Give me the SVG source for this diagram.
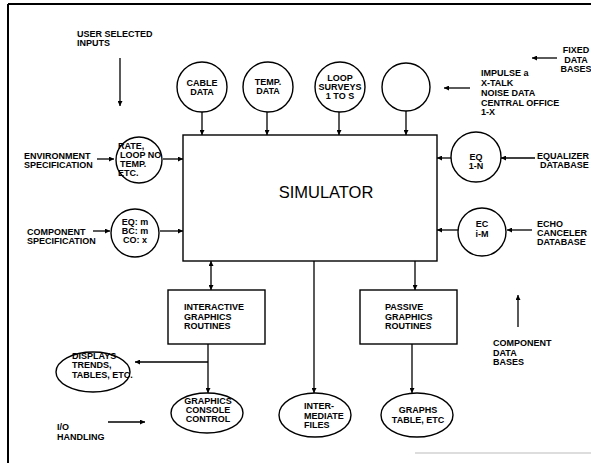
<svg xmlns="http://www.w3.org/2000/svg" width="591" height="463" viewBox="0 0 591 463">
<defs>
<marker id="ah" viewBox="0 0 10 10" refX="10" refY="5" markerWidth="6" markerHeight="5" orient="auto-start-reverse" markerUnits="userSpaceOnUse">
<path d="M0,0 L10,5 L0,10 z" fill="#000"/>
</marker>
</defs>
<style>
text{font-family:"Liberation Sans",Arial,sans-serif;font-weight:bold;font-size:9px;fill:#000}
.c{text-anchor:middle}
.big{font-weight:normal;font-size:16.5px}
.sh{fill:#fff;stroke:#000;stroke-width:1.4}
.ln{fill:none;stroke:#000;stroke-width:1.3}
.ar{fill:none;stroke:#000;stroke-width:1.3;marker-end:url(#ah)}
.da{fill:none;stroke:#000;stroke-width:1.3;marker-end:url(#ah);marker-start:url(#ah)}
</style>
<rect width="591" height="463" fill="#fff"/>
<g id="frame">
<line x1="8" y1="4" x2="591" y2="4" stroke="#000" stroke-width="2"/>
<line x1="8" y1="4" x2="8" y2="463" stroke="#000" stroke-width="2"/>
<line x1="415" y1="453" x2="591" y2="453" stroke="#bbb" stroke-width="1"/>
</g>
<g id="connectors">
<line class="ar" x1="120" y1="58" x2="120" y2="106"/>
<line class="ar" x1="202" y1="112" x2="202" y2="135"/>
<line class="ar" x1="267" y1="112" x2="267" y2="135"/>
<line class="ar" x1="339" y1="112" x2="339" y2="135"/>
<line class="ar" x1="406" y1="111" x2="406" y2="135"/>
<line class="ar" x1="470" y1="88" x2="444" y2="88"/>
<line class="ar" x1="557" y1="58" x2="532" y2="58"/>
<line class="ar" x1="97" y1="159" x2="114" y2="159"/>
<line class="ar" x1="163" y1="159" x2="183" y2="159"/>
<line class="ar" x1="93" y1="231" x2="110" y2="231"/>
<line class="ar" x1="160" y1="231" x2="183" y2="231"/>
<line class="ar" x1="451" y1="158" x2="437" y2="158"/>
<line class="ar" x1="535" y1="158" x2="501" y2="158"/>
<line class="ar" x1="458" y1="230" x2="437" y2="230"/>
<line class="ar" x1="532" y1="230" x2="507" y2="230"/>
<line class="da" x1="211" y1="261" x2="211" y2="290"/>
<line class="ar" x1="208" y1="344" x2="208" y2="393"/>
<line class="ar" x1="208" y1="362" x2="135" y2="362"/>
<line class="ar" x1="108" y1="422" x2="145" y2="422"/>
<line class="ar" x1="314" y1="261" x2="314" y2="393"/>
<line class="ar" x1="415" y1="261" x2="415" y2="290"/>
<line class="ar" x1="412" y1="344" x2="412" y2="393"/>
<line class="ar" x1="518" y1="327" x2="518" y2="295"/>
</g>
<g id="simulator">
<rect class="sh" x="183" y="135" width="254" height="126"/>
<text class="big c" x="326" y="198">SIMULATOR</text>
</g>
<g id="user-inputs">
<text x="77" y="37">USER SELECTED</text>
<text x="77" y="46">INPUTS</text>
</g>
<g id="cable-data">
<circle class="sh" cx="202" cy="87" r="25"/>
<text class="c" x="202" y="86">CABLE</text>
<text class="c" x="202" y="95">DATA</text>
</g>
<g id="temp-data">
<circle class="sh" cx="268" cy="87" r="25"/>
<text class="c" x="268" y="85">TEMP.</text>
<text class="c" x="268" y="94">DATA</text>
</g>
<g id="loop-surveys">
<circle class="sh" cx="340" cy="87" r="25"/>
<text class="c" x="340" y="81">LOOP</text>
<text class="c" x="340" y="90">SURVEYS</text>
<text class="c" x="340" y="99">1 TO S</text>
</g>
<g id="empty-circle">
<circle class="sh" cx="406" cy="87" r="24"/>
</g>
<g id="impulse">
<text x="481" y="76">IMPULSE a</text>
<text x="481" y="86">X-TALK</text>
<text x="481" y="96">NOISE DATA</text>
<text x="481" y="106">CENTRAL OFFICE</text>
<text x="481" y="115">1-X</text>
</g>
<g id="fixed-data-bases">
<text class="c" x="576" y="53">FIXED</text>
<text class="c" x="576" y="63">DATA</text>
<text class="c" x="576" y="72">BASES</text>
</g>
<g id="environment">
<text x="24" y="159">ENVIRONMENT</text>
<text x="24" y="168">SPECIFICATION</text>
</g>
<g id="rate">
<circle class="sh" cx="139" cy="160" r="23"/>
<text x="118" y="149">RATE,</text>
<text x="120" y="158">LOOP NO</text>
<text x="120" y="167">TEMP.</text>
<text x="118" y="176">ETC.</text>
</g>
<g id="component-spec">
<text x="27" y="235">COMPONENT</text>
<text x="27" y="244">SPECIFICATION</text>
</g>
<g id="eq-bc-co">
<circle class="sh" cx="135" cy="233" r="24"/>
<text class="c" x="135" y="225">EQ: m</text>
<text class="c" x="135" y="234">BC: m</text>
<text class="c" x="135" y="243">CO: x</text>
</g>
<g id="eq-1n">
<circle class="sh" cx="476" cy="157" r="25"/>
<text class="c" x="476" y="160">EQ</text>
<text class="c" x="476" y="169">1-N</text>
</g>
<g id="equalizer-db">
<text x="537" y="159">EQUALIZER</text>
<text x="540" y="168">DATABASE</text>
</g>
<g id="ec-im">
<circle class="sh" cx="482" cy="232" r="24"/>
<text class="c" x="482" y="227">EC</text>
<text class="c" x="482" y="237">i-M</text>
</g>
<g id="echo-db">
<text x="537" y="227">ECHO</text>
<text x="537" y="236">CANCELER</text>
<text x="537" y="245">DATABASE</text>
</g>
<g id="interactive">
<rect class="sh" x="168" y="290" width="97" height="54"/>
<text x="184" y="310">INTERACTIVE</text>
<text x="184" y="320">GRAPHICS</text>
<text x="184" y="329">ROUTINES</text>
</g>
<g id="passive">
<rect class="sh" x="360" y="290" width="97" height="54"/>
<text x="385" y="310">PASSIVE</text>
<text x="385" y="320">GRAPHICS</text>
<text x="385" y="329">ROUTINES</text>
</g>
<g id="displays">
<ellipse class="sh" cx="93" cy="372" rx="37" ry="20"/>
<text x="72" y="359">DISPLAYS</text>
<text x="72" y="368">TRENDS,</text>
<text x="72" y="378">TABLES, ETC.</text>
</g>
<g id="console">
<ellipse class="sh" cx="207" cy="413" rx="36" ry="20"/>
<text class="c" x="208" y="404">GRAPHICS</text>
<text class="c" x="208" y="413">CONSOLE</text>
<text class="c" x="208" y="422">CONTROL</text>
</g>
<g id="io-handling">
<text x="57" y="430">I/O</text>
<text x="57" y="440">HANDLING</text>
</g>
<g id="intermediate">
<ellipse class="sh" cx="315" cy="415" rx="36" ry="22"/>
<text x="304" y="409">INTER-</text>
<text x="304" y="419">MEDIATE</text>
<text x="304" y="428">FILES</text>
</g>
<g id="graphs">
<ellipse class="sh" cx="417" cy="415" rx="36" ry="22"/>
<text class="c" x="418" y="413">GRAPHS</text>
<text class="c" x="418" y="423">TABLE, ETC</text>
</g>
<g id="component-db">
<text x="493" y="346">COMPONENT</text>
<text x="493" y="356">DATA</text>
<text x="493" y="365">BASES</text>
</g>
</svg>
